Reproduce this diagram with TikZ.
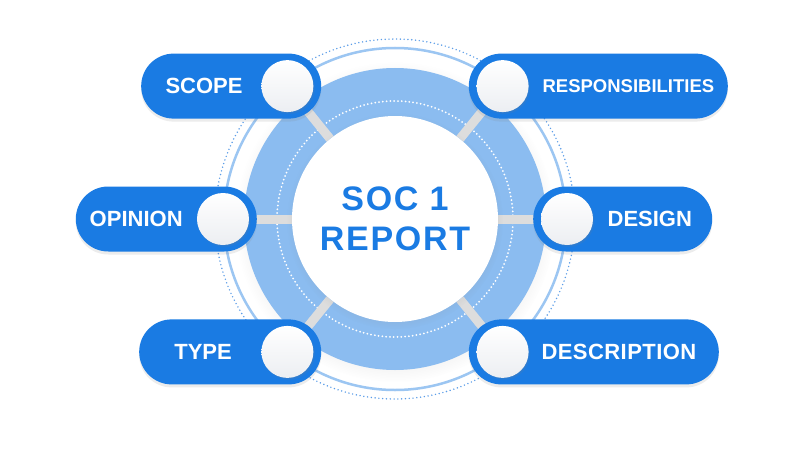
\documentclass[tikz,border=0pt]{standalone}
\usepackage{fontspec}
\setmainfont{Liberation Sans}
\usetikzlibrary{shapes.misc,shadows,calc}
\definecolor{pillblue}{HTML}{1A7BE3}
\definecolor{ringblue}{HTML}{8BBCF0}
\definecolor{thinblue}{HTML}{9CC6F2}
\definecolor{dotblue}{HTML}{5B9DE8}
\definecolor{spokegrey}{HTML}{DDDDDD}
\definecolor{knobgrey}{HTML}{ECEEF2}
\pgfdeclarelayer{back}
\pgfsetlayers{back,main}
\begin{document}
\begin{tikzpicture}[x=1pt,y=1pt,
  pill/.style={rounded rectangle, fill=pillblue, minimum height=65pt, inner sep=0pt,
    drop shadow={opacity=0.15, shadow xshift=0pt, shadow yshift=-3pt}},
  knob/.style={circle, minimum size=52pt, inner sep=0pt, shading=axis, shading angle=135,
    top color=white, bottom color=knobgrey,
    circular drop shadow={opacity=0.3, shadow scale=1.03, shadow xshift=1pt, shadow yshift=-1.5pt}},
  pilltext/.style={text=white, font=\bfseries\fontsize{22}{26}\selectfont},
  spoke/.style={spokegrey, line width=9pt},
  dotring/.style={line cap=round, dash pattern=on 0pt off 3.8pt, line width=2pt}]
\useasboundingbox (-395,-231) rectangle (405,219);
\node[circle, minimum size=206pt, inner sep=0pt, fill=white, text=pillblue, align=center,
  font=\bfseries\fontsize{34}{40}\selectfont\addfontfeature{LetterSpace=5},
  circular drop shadow={opacity=0.18, shadow scale=1.05, shadow xshift=0pt, shadow yshift=-2pt}]
  (soc) at (0,0) {SOC 1\\REPORT};
\node[knob] (scopeknob) at (129:171) {};
\node[knob] (opinionknob) at (180:172) {};
\node[knob] (typeknob) at (231:171) {};
\node[knob] (respknob) at (51:171) {};
\node[knob] (designknob) at (0:172) {};
\node[knob] (descknob) at (-51:171) {};
\begin{pgfonlayer}{back}
\fill[white] (-395,-231) rectangle (405,219);
\draw[dotring, dotblue, line width=1.6pt] (0,0) circle (180);
\draw[thinblue, line width=2.5pt] (0,0) circle (171);
\node[circle, minimum size=302pt, inner sep=0pt, fill=ringblue,
  circular drop shadow={opacity=0.12, shadow scale=1.06, shadow xshift=0pt, shadow yshift=-3pt}]
  (ring) at (0,0) {};
\draw[dotring, white] (0,0) circle (118);
\draw[spoke] (soc) -- (scopeknob);
\draw[spoke] (soc) -- (opinionknob);
\draw[spoke] (soc) -- (typeknob);
\draw[spoke] (soc) -- (respknob);
\draw[spoke] (soc) -- (designknob);
\draw[spoke] (soc) -- (descknob);
\end{pgfonlayer}
\node[pill, minimum width=180pt, anchor=east] (scopepill) at ($(scopeknob.center)+(34,0)$) {};
\node[pill, minimum width=181pt, anchor=east] (opinionpill) at ($(opinionknob.center)+(34,0)$) {};
\node[pill, minimum width=182pt, anchor=east] (typepill) at ($(typeknob.center)+(34,0)$) {};
\node[pill, minimum width=259pt, anchor=west] (resppill) at ($(respknob.center)+(-34,0)$) {};
\node[pill, minimum width=179pt, anchor=west] (designpill) at ($(designknob.center)+(-34,0)$) {};
\node[pill, minimum width=250pt, anchor=west] (descpill) at ($(descknob.center)+(-34,0)$) {};
\node[knob] at (scopeknob) {};
\node[knob] at (opinionknob) {};
\node[knob] at (typeknob) {};
\node[knob] at (respknob) {};
\node[knob] at (designknob) {};
\node[knob] at (descknob) {};
\node[pilltext] (scopetext) at ($(scopepill.west)!0.5!(scopeknob.west)+(3,0)$) {SCOPE};
\node[pilltext] (opiniontext) at ($(opinionpill.west)!0.5!(opinionknob.west)$) {OPINION};
\node[pilltext] (typetext) at ($(typepill.west)!0.5!(typeknob.west)+(3,0)$) {TYPE};
\node[pilltext, font=\bfseries\fontsize{18.5}{22}\selectfont] (resptext) at ($(respknob.east)!0.5!(resppill.east)$) {RESPONSIBILITIES};
\node[pilltext] (designtext) at ($(designknob.east)!0.5!(designpill.east)+(-3,0)$) {DESIGN};
\node[pilltext, font=\bfseries\fontsize{22}{26}\selectfont\addfontfeature{LetterSpace=2}] (desctext) at ($(descknob.east)!0.5!(descpill.east)+(-5,0)$) {DESCRIPTION};
\end{tikzpicture}
\end{document}
